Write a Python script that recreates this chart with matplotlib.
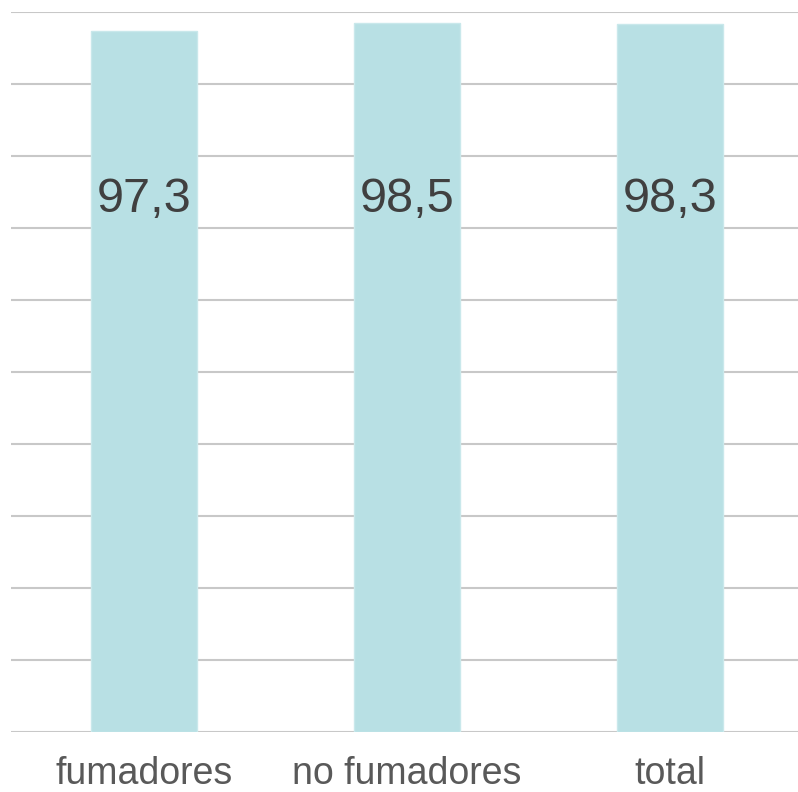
import matplotlib.pyplot as plt

categories = ["fumadores", "no fumadores", "total"]
values = [97.3, 98.5, 98.3]
labels = ["97,3", "98,5", "98,3"]

plt.rcParams['font.family'] = ['Liberation Sans', 'DejaVu Sans']

fig = plt.figure(figsize=(7.98, 7.92), dpi=100)
ax = fig.add_axes([11 / 798, 60 / 792, 787 / 798, 720 / 792])

x = range(len(categories))
ax.bar(x, values, width=0.40, color="#b8e0e4", edgecolor="#c9e8eb", linewidth=1, zorder=3)

for i in x:
    ax.text(i, 73.9, labels[i], ha='center', va='center', fontsize=35, color="#404040", zorder=4)

ax.set_xlim(-0.506, 2.487)
ax.set_ylim(0, 100)
ax.set_yticks(range(0, 101, 10))
ax.set_yticklabels([])
ax.grid(True, axis='y', color="#c8c8c8", linewidth=1.5, zorder=0)
ax.set_axisbelow(True)
ax.set_xticks(list(x))
ax.set_xticklabels(categories, fontsize=27, color="#595959")
ax.tick_params(axis='both', length=0, pad=17)
for s in ax.spines.values():
    s.set_visible(False)

plt.savefig("out.png", dpi=100)
